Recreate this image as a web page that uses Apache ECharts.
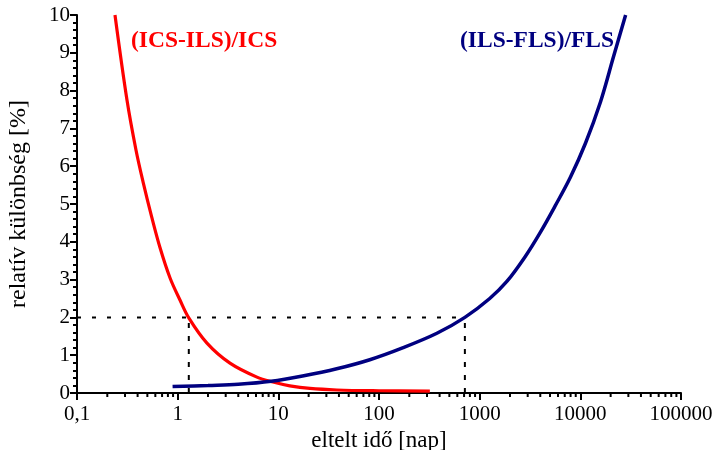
<!DOCTYPE html>
<html><head><meta charset="utf-8">
<script src="https://cdn.jsdelivr.net/npm/echarts@6/dist/echarts.min.js"></script>
<style>html,body{margin:0;padding:0;background:#fff}#c{width:712px;height:450px}</style>
</head><body><div id="c"></div>
<script>
// Data
var redX = [0.2384, 0.3137, 0.3854, 0.4555, 0.5518, 0.6671, 0.8384, 1.054, 1.294, 1.954, 3.307, 6.13, 8.84, 13.0, 20.6, 38.2, 100, 320];
var redY = [10.0, 7.75, 6.43, 5.56, 4.66, 3.85, 3.05, 2.46, 1.98, 1.32, 0.79, 0.42, 0.29, 0.19, 0.12, 0.08, 0.06, 0.05];
var blueX = [0.89, 2.0, 4.0, 8.5, 17.4, 38, 81, 174, 376, 713, 1259, 1862, 2818, 3963, 5623, 7943, 11220, 15850, 21380, 28180];
var blueY = [0.17, 0.20, 0.23, 0.31, 0.45, 0.64, 0.88, 1.2, 1.58, 2.0, 2.5, 2.95, 3.6, 4.23, 4.95, 5.7, 6.6, 7.7, 8.9, 10.0];
var refX = [0.1, 1.29, 713];
var refY = 2;
var xTickLabels = ['0,1', '1', '10', '100', '1000', '10000', '100000'];
var yTickLabels = ['0','1','2','3','4','5','6','7','8','9','10'];
var xMinorTicks = [0.2,0.3,0.4,0.5,0.6,0.7,0.8,0.9, 2,3,4,5,6,7,8,9, 20,30,40,50,60,70,80,90, 200,300,400,500,600,700,800,900, 2000,3000,4000,5000,6000,7000,8000,9000, 20000,30000,40000,50000,60000,70000,80000,90000];
var labelRed = '(ICS-ILS)/ICS';
var labelBlue = '(ILS-FLS)/FLS';

function zip(a, b) { return a.map(function (v, i) { return [v, b[i]]; }); }
var FONT = '"Liberation Serif", "Times New Roman", serif';

var chart = echarts.init(document.getElementById('c'));
chart.setOption({
  animation: false,
  backgroundColor: '#fff',
  grid: { left: 77, right: 31, top: 15, bottom: 57, containLabel: false, outerBoundsMode: 'none' },
  xAxis: {
    type: 'log', logBase: 10, min: 0.1, max: 100000, splitNumber: 6,
    name: 'eltelt idő [nap]', nameLocation: 'middle', nameGap: 34,
    nameTextStyle: { fontFamily: FONT, fontSize: 23, color: '#000' },
    axisLine: { lineStyle: { color: '#000', width: 2 } },
    axisTick: { show: true, length: 7, lineStyle: { color: '#000', width: 2 } },
    axisLabel: {
      fontFamily: FONT, fontSize: 21, color: '#000', margin: 11, hideOverlap: false,
      formatter: function (v) {
        var e = Math.round(Math.log10(v));
        return xTickLabels[e + 1];
      }
    },
    splitLine: { show: false }
  },
  yAxis: {
    type: 'value', min: 0, max: 10, interval: 1,
    name: 'relatív különbség [%]', nameLocation: 'middle', nameGap: 46,
    nameTextStyle: { fontFamily: FONT, fontSize: 24, color: '#000' },
    axisLine: { show: true, lineStyle: { color: '#000', width: 2 } },
    axisTick: { show: true, length: 7, lineStyle: { color: '#000', width: 2 } },
    minorTick: { show: true, splitNumber: 5, length: 4, lineStyle: { color: '#000', width: 2 } },
    axisLabel: {
      fontFamily: FONT, fontSize: 21, color: '#000', margin: 7,
      formatter: function (v) { return yTickLabels[Math.round(v)]; }
    },
    splitLine: { show: false }
  },
  graphic: [
    { type: 'text', left: 131, top: 29, style: { text: labelRed, fill: '#ff0000', font: 'bold 23.5px ' + FONT } },
    { type: 'text', left: 460, top: 29, style: { text: labelBlue, fill: '#000080', font: 'bold 23.5px ' + FONT } }
  ],
  series: [
    {
      type: 'custom', silent: true, clip: false, z: 1,
      data: xMinorTicks.map(function (v) { return [v, 0]; }),
      renderItem: function (params, api) {
        var p = api.coord([api.value(0), 0]);
        return { type: 'line', shape: { x1: p[0], y1: p[1], x2: p[0], y2: p[1] + 4 }, style: { stroke: '#000', lineWidth: 2 } };
      }
    },
    {
      type: 'line', showSymbol: false, silent: true,
      data: [[refX[0], refY], [refX[2], refY]],
      lineStyle: { color: '#000', width: 2, type: [4, 11] }
    },
    {
      type: 'line', showSymbol: false, silent: true,
      data: [[refX[1], 0], [refX[1], refY]],
      lineStyle: { color: '#000', width: 2, type: [5, 8] }
    },
    {
      type: 'line', showSymbol: false, silent: true,
      data: [[refX[2], 0], [refX[2], refY]],
      lineStyle: { color: '#000', width: 2, type: [5, 8] }
    },
    {
      type: 'line', showSymbol: false, smooth: 0.35, z: 3,
      data: zip(redX, redY),
      lineStyle: { color: '#ff0000', width: 3.2 }
    },
    {
      type: 'line', showSymbol: false, smooth: 0.35, z: 4,
      data: zip(blueX, blueY),
      lineStyle: { color: '#000080', width: 3.5 }
    }
  ]
});
</script></body></html>
